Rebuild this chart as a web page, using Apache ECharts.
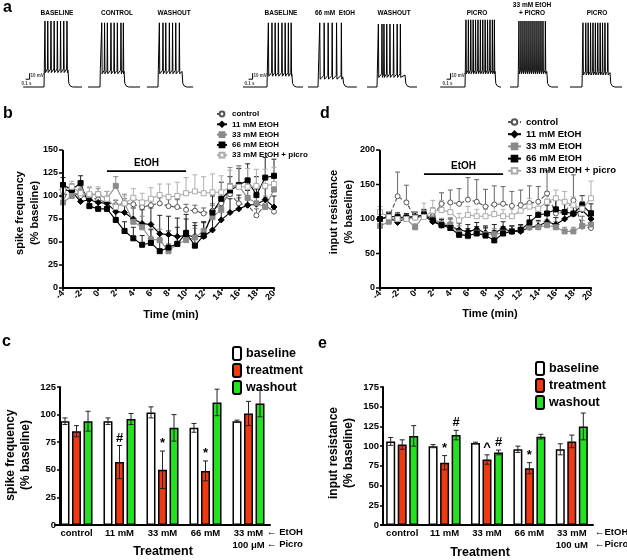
<!DOCTYPE html>
<html><head><meta charset="utf-8">
<script src="https://cdn.jsdelivr.net/npm/echarts@6/dist/echarts.min.js"></script>
<style>html,body{margin:0;padding:0;background:#fff}#c{width:627px;height:560px}</style>
</head><body><div id="c"></div>
<script>
// ================= DATA =================
// Panel a: voltage traces (times in s relative to current-step onset, voltages in mV)
const traceLabels = ['BASELINE','CONTROL','WASHOUT','BASELINE','66 mM  EtOH','WASHOUT','PICRO','33 mM EtOH\n+ PICRO','PICRO'];
const traceStart = [-0.52,-0.30,-0.28,-0.60,-0.25,-0.25,-0.62,-0.20,-0.30];
const traceEnd   = [0.95,1.00,0.88,0.90,0.97,1.00,0.90,1.00,1.00];
const traceOff   = [0.60,0.60,0.60,0.62,0.62,0.70,0.75,0.72,0.70];
const tracePlateau = [-42,-44,-44,-48,-53,-50,-44,-44,-46];
const tracePeak  = [40,37,37,37,37,35,42,40,37];
const traceRest  = -70;
const traceSpikes = [
  [0.02,0.09,0.17,0.25,0.33,0.41,0.49,0.57],
  [0.04,0.11,0.18,0.27,0.35,0.43,0.52,0.58],
  [0.03,0.12,0.19,0.28,0.36,0.44,0.53],
  [0.03,0.12,0.20,0.28,0.37,0.45,0.53,0.60],
  [0.04,0.15,0.25,0.35,0.46,0.58],
  [0.03,0.12,0.17,0.24,0.32,0.41,0.50,0.58],
  [0.02,0.08,0.14,0.20,0.26,0.32,0.38,0.44,0.50,0.56,0.62,0.68,0.73],
  [0.02,0.07,0.12,0.17,0.22,0.27,0.32,0.37,0.42,0.47,0.52,0.57,0.62,0.68],
  [0.02,0.09,0.15,0.21,0.27,0.33,0.39,0.45,0.51,0.57,0.64]
];
const scaleBarTime = 0.1;   // s
const scaleBarVolt = 10;    // mV
const scaleBarTexts = ['10 mV','0.1 s'];

// Panels b & d: time courses
const timeMin = [-4,-3,-2,-1,0,1,2,3,4,5,6,7,8,9,10,11,12,13,14,15,16,17,18,19,20];
const etohPeriod = [0.8, 10.3];
const seriesNames = ['control','11 mM EtOH','33 mM EtOH','66 mM EtOH','33 mM EtOH + picro'];

const bControl    = [100,104,100,99,96,93,90,92,91,88,90,92,89,88,85,84,81,84,92,102,92,90,79,90,83];
const bControlErr = [5,4,5,4,5,5,5,5,6,6,6,6,7,8,6,6,6,6,6,7,6,6,7,8,6];
const b11    = [107,105,94,96,93,92,83,82,75,70,69,59,58,56,57,56,56,63,74,82,86,90,91,96,88];
const b11Err = [6,6,8,5,6,6,8,10,12,15,18,20,20,20,18,15,15,14,15,15,15,16,12,12,12];
const b33    = [93,100,105,101,102,97,111,92,72,66,53,52,40,48,52,55,62,77,85,111,111,98,92,88,107];
const b33Err = [10,8,6,8,6,8,10,10,15,12,10,12,8,8,8,10,10,15,18,20,22,14,15,12,12];
const b66    = [112,107,114,89,86,86,74,62,54,47,49,40,44,48,60,46,57,82,97,106,112,117,101,120,122];
const b66Err = [8,6,8,6,6,8,8,10,12,10,15,18,18,18,20,22,15,18,18,15,18,18,20,22,18];
const bPicro    = [106,110,103,102,102,97,88,92,98,93,97,101,99,100,103,105,103,104,104,110,110,110,111,111,113];
const bPicroErr = [6,6,6,8,8,8,8,8,10,10,12,12,14,15,17,18,18,20,18,18,22,20,18,18,18];

const dControl    = [100,102,133,124,102,104,104,122,124,122,128,125,118,121,122,119,120,123,125,137,108,110,127,89,87];
const dControlErr = [10,8,35,25,8,8,12,16,18,22,32,32,25,27,25,21,22,25,22,33,20,18,37,15,15];
const d11    = [100,103,95,102,104,105,96,91,90,84,82,85,80,80,86,82,82,88,90,96,92,100,107,113,100];
const d11Err = [8,6,6,5,6,6,8,8,10,10,10,10,10,12,10,8,8,8,8,10,10,10,12,12,12];
const d33    = [90,96,101,100,88,105,101,93,92,80,75,80,78,78,80,82,84,88,88,91,88,82,82,90,92];
const d33Err = [8,6,6,6,5,8,8,8,10,10,8,8,8,8,8,8,8,8,8,8,8,6,6,8,8];
const d66    = [100,104,103,102,103,106,98,91,87,77,76,79,76,69,79,82,84,95,106,108,114,110,108,120,108];
const d66Err = [8,6,6,6,6,8,8,8,8,8,10,10,12,14,10,8,8,10,10,12,14,14,12,14,14];
const dPicro    = [110,103,100,100,102,103,112,113,110,98,106,104,104,107,104,104,112,118,115,125,130,125,120,115,130];
const dPicroErr = [8,8,6,6,8,20,15,14,12,10,12,10,10,12,10,10,12,12,10,15,12,15,12,18,25];

// Panels c & e: bar summaries
const barNames = ['baseline','treatment','washout'];
const cCats = ['control','11 mM','33 mM','66 mM','33 mM\n100 μM'];
const cBaseline = [94,94,102,88,94],   cBaselineErr = [3,3,5,4,1];
const cTreatment = [85,57,50,49,101],  cTreatmentErr = [5,15,17,9,11];
const cWashout = [94,96,88,111,110],   cWashoutErr = [9,5,12,12,12];
const cTreatSig = ['','#','*','*',''], cWashSig = ['','','','',''];

const eCats = ['control','11 mM','33 mM','66 mM','33 mM\n100 uM'];
const eBaseline = [106,100,104,96,96], eBaselineErr = [5,2,1,4,7];
const eTreatment = [102,79,83,72,106], eTreatmentErr = [6,9,6,7,8];
const eWashout = [113,114,92,112,125], eWashoutErr = [13,6,3,3,17];
const eTreatSig = ['','*','^','*',''], eWashSig = ['','#','#','',''];

// ================= BUILD =================
const FONT = 'Liberation Sans';
const chart = echarts.init(document.getElementById('c'), null, {renderer:'canvas', width:627, height:560});
const grids=[], xAxes=[], yAxes=[], series=[], graphics=[];

function tracePoints(i){
  const pl=tracePlateau[i], pk=tracePeak[i], off=traceOff[i];
  const pts=[[traceStart[i],traceRest],[0,traceRest],[0.008,pl+3]];
  traceSpikes[i].forEach(t=>{ pts.push([t-0.004,pl+2],[t+0.004,pk],[t+0.014,pl-4]); });
  pts.push([off,pl],[off+0.02,traceRest+6],[off+0.06,traceRest+1.5],[off+0.12,traceRest],[traceEnd[i],traceRest]);
  return pts;
}
const traceOnPx = [44,100,158,267,318,377,465,518,582];
const traceLabelPx = [57,117,174,281,335,394,477,532,597];
traceOnPx.forEach((on,i)=>{
  grids.push({left:on-28, top:15, width:68, height:78, outerBoundsMode:'none'});
  xAxes.push({type:'value', gridIndex:i, min:-0.7, max:1.0, show:false, axisLine:{show:false, onZero:false}});
  yAxes.push({type:'value', gridIndex:i, min:-80, max:50, show:false, axisLine:{show:false, onZero:false}});
  series.push({type:'line', xAxisIndex:i, yAxisIndex:i, data:tracePoints(i), symbol:'none',
    lineStyle:{color:'#000', width:1}, silent:true, clip:false});
  const multi = traceLabels[i].indexOf('\n')>=0;
  graphics.push({type:'text', x:traceLabelPx[i], y:multi?1:9, style:{text:traceLabels[i], font:'bold 6.5px '+FONT, fill:'#000', textAlign:'center', textVerticalAlign:'top', lineHeight:8}});
});
// scale bars in the first trace of each group
[0,3,6].forEach(i=>{
  const x0=-0.46, v0=-57;
  series.push({type:'line', xAxisIndex:i, yAxisIndex:i, symbol:'none', silent:true, clip:false,
    lineStyle:{color:'#000', width:1},
    data:[[x0,v0],[x0+scaleBarTime,v0],[x0+scaleBarTime,v0+scaleBarVolt]]});
  series.push({type:'scatter', xAxisIndex:i, yAxisIndex:i, symbolSize:0, silent:true, clip:false,
    data:[{value:[x0+scaleBarTime,v0+6], label:{formatter:scaleBarTexts[0], position:'right', distance:1}},
          {value:[x0+0.02,v0-1], label:{formatter:scaleBarTexts[1], position:'bottom', distance:1}}],
    label:{show:true, fontSize:4.5, fontWeight:'bold', color:'#000', fontFamily:FONT}});
});

// ---- time-course panels ----
const styles = [
  {symbol:'circle', size:5, fill:'#fff', border:'#555', line:'#555', type:'dashed', err:'#666'},
  {symbol:'diamond', size:6, fill:'#000', border:'#000', line:'#000', type:'solid', err:'#222'},
  {symbol:'rect', size:5, fill:'#8a8a8a', border:'#8a8a8a', line:'#8a8a8a', type:'solid', err:'#8a8a8a'},
  {symbol:'rect', size:5, fill:'#000', border:'#000', line:'#000', type:'solid', err:'#222'},
  {symbol:'rect', size:5, fill:'#fff', border:'#aaa', line:'#aaa', type:'solid', err:'#b0b0b0'}
];
function axisCommon(){
  return {axisLine:{show:true, onZero:false, lineStyle:{color:'#000', width:2}},
    axisTick:{show:true, inside:false, length:3, lineStyle:{color:'#000', width:1.5}},
    splitLine:{show:false}};
}
const timeIndex = (t)=> (t - timeMin[0])/(timeMin[1]-timeMin[0]);
function timePanel(gi, left, yMax, yInt, vals, errs, barVal){
  grids.push({left:left, top:150, width:211, height:138, outerBoundsMode:'none'});
  const ax = axisCommon();
  ax.axisTick.interval = 1; ax.axisTick.alignWithLabel = true;
  xAxes.push(Object.assign({type:'category', gridIndex:gi, data:timeMin.map(String), boundaryGap:false,
    axisLabel:{interval:1, rotate:45, fontSize:9, fontWeight:'bold', color:'#000', fontFamily:FONT, margin:4}}, ax));
  // value axis: labels only; its line and ticks are drawn by the custom series below at the left edge
  yAxes.push({type:'value', gridIndex:gi, min:0, max:yMax, interval:yInt, position:'left',
    axisLine:{show:false, onZero:false}, axisTick:{show:false}, splitLine:{show:false},
    axisLabel:{fontSize:9, fontWeight:'bold', color:'#000', fontFamily:FONT, margin:5}});
  series.push({type:'custom', xAxisIndex:gi, yAxisIndex:gi, z:6, silent:true, clip:false, encode:{x:0, y:[1,2]},
    data:[[0, 0, yMax, yInt]],
    renderItem:(p,api)=>{
      const lo=api.coord([0, api.value(1)]), hi=api.coord([0, api.value(2)]);
      const ch=[{type:'line', shape:{x1:lo[0],y1:lo[1]+1,x2:hi[0],y2:hi[1]}, style:{stroke:'#000', lineWidth:2}}];
      for (let v=api.value(1); v<=api.value(2)+1e-9; v+=api.value(3)) {
        const c=api.coord([0,v]);
        ch.push({type:'line', shape:{x1:c[0]-4,y1:c[1],x2:c[0],y2:c[1]}, style:{stroke:'#000', lineWidth:1.5}});
      }
      return {type:'group', children:ch};
    }});
  vals.forEach((v,k)=>{
    const s=styles[k];
    series.push({type:'custom', xAxisIndex:gi, yAxisIndex:gi, z:1, silent:true, encode:{x:0,y:1},
      data: timeMin.map((t,j)=>[j, v[j], errs[k][j]]),
      renderItem:(p,api)=>{
        const j=api.value(0), y=api.value(1), e=api.value(2);
        const a=api.coord([j,y]), b=api.coord([j,y+e]);
        return {type:'group', children:[
          {type:'line', shape:{x1:a[0],y1:a[1],x2:b[0],y2:b[1]}, style:{stroke:s.err, lineWidth:1}},
          {type:'line', shape:{x1:b[0]-2.5,y1:b[1],x2:b[0]+2.5,y2:b[1]}, style:{stroke:s.err, lineWidth:1}}]};
      }});
  });
  vals.forEach((v,k)=>{
    const s=styles[k];
    series.push({type:'line', name:seriesNames[k], xAxisIndex:gi, yAxisIndex:gi, z:3,
      data: v.slice(), symbol:s.symbol, symbolSize:s.size, showAllSymbol:true,
      itemStyle:{color:s.fill, borderColor:s.border, borderWidth:1},
      lineStyle:{color:s.line, width:1.1, type:s.type}});
  });
  // EtOH application bar
  series.push({type:'custom', xAxisIndex:gi, yAxisIndex:gi, z:4, silent:true, encode:{x:[0,1], y:2},
    data:[[timeIndex(etohPeriod[0]), timeIndex(etohPeriod[1]), barVal]],
    renderItem:(p,api)=>{
      const a=api.coord([api.value(0), api.value(2)]), b=api.coord([api.value(1), api.value(2)]);
      return {type:'group', children:[
        {type:'line', shape:{x1:a[0],y1:a[1],x2:b[0],y2:b[1]}, style:{stroke:'#000', lineWidth:1.6}},
        {type:'text', x:(a[0]+b[0])/2, y:a[1]-3, style:{text:'EtOH', font:'bold 10px '+FONT, fill:'#000', textAlign:'center', textVerticalAlign:'bottom'}}]};
    }});
}
timePanel(9, 63, 150, 25, [bControl,b11,b33,b66,bPicro], [bControlErr,b11Err,b33Err,b66Err,bPicroErr], 127);
timePanel(10, 380, 200, 50, [dControl,d11,d33,d66,dPicro], [dControlErr,d11Err,d33Err,d66Err,dPicroErr], 165);

// ---- bar panels ----
const barColors = ['#ffffff','#ee3a12','#22e222'];
const BAR_W = 9, BAR_GAP = 0.28, BAR_STEP = BAR_W*(1+BAR_GAP);
function barPanel(gi, left, width, yMax, cats, vals, errs, sigs){
  grids.push({left:left, top:387, width:width, height:138, outerBoundsMode:'none'});
  xAxes.push({type:'category', gridIndex:gi, data:cats,
    axisLine:{show:true, onZero:false, lineStyle:{color:'#000', width:2}}, axisTick:{show:false},
    axisLabel:{fontSize:9.5, fontWeight:'bold', color:'#000', fontFamily:FONT, margin:2, lineHeight:12, interval:0}});
  yAxes.push(Object.assign({type:'value', gridIndex:gi, min:0, max:yMax, interval:25, offset:gi===11?-5:-2,
    axisLabel:{fontSize:9.5, fontWeight:'bold', color:'#000', fontFamily:FONT, margin:4}}, axisCommon()));
  vals.forEach((v,k)=>{
    series.push({type:'bar', name:barNames[k], xAxisIndex:gi, yAxisIndex:gi, data:v, barWidth:BAR_W,
      barGap:(BAR_GAP*100)+'%', itemStyle:{color:barColors[k], borderColor:'#000', borderWidth:1.5}, z:2});
  });
  vals.forEach((v,k)=>{
    const sg = sigs[k];
    series.push({type:'custom', xAxisIndex:gi, yAxisIndex:gi, z:5, silent:true, encode:{x:0,y:1},
      data: v.map((val,i)=>[i, val, errs[k][i]]),
      renderItem:(p,api)=>{
        const i=api.value(0), y=api.value(1), e=api.value(2);
        const x=api.coord([i,y])[0]+(k-1)*BAR_STEP;
        const top=api.coord([i,y+e])[1], bot=api.coord([i,y-e])[1];
        const ch=[
          {type:'line', shape:{x1:x,y1:top,x2:x,y2:bot}, style:{stroke:'#222', lineWidth:1}},
          {type:'line', shape:{x1:x-2.5,y1:top,x2:x+2.5,y2:top}, style:{stroke:'#222', lineWidth:1}},
          {type:'line', shape:{x1:x-2.5,y1:bot,x2:x+2.5,y2:bot}, style:{stroke:'#222', lineWidth:1}}];
        if (sg && sg[i]) ch.push({type:'text', x:x, y:top-1, style:{text:sg[i], font:'bold 13px '+FONT, fill:'#000', textAlign:'center', textVerticalAlign:'bottom'}});
        return {type:'group', children:ch};
      }});
  });
}
barPanel(11, 55, 215, 125, cCats, [cBaseline,cTreatment,cWashout], [cBaselineErr,cTreatmentErr,cWashoutErr], [null,cTreatSig,cWashSig]);
barPanel(12, 381, 212, 175, eCats, [eBaseline,eTreatment,eWashout], [eBaselineErr,eTreatmentErr,eWashoutErr], [null,eTreatSig,eWashSig]);

// ---- texts ----
function txt(x,y,t,size,opts){
  graphics.push(Object.assign({type:'text', x:x, y:y, style:Object.assign({text:t, font:'bold '+size+'px '+FONT, fill:'#000', textAlign:'center', textVerticalAlign:'middle'}, (opts&&opts.style)||{})}, (opts&&opts.el)||{}));
}
txt(3,0,'a',16,{style:{textAlign:'left', textVerticalAlign:'top'}});
txt(3,106,'b',16,{style:{textAlign:'left', textVerticalAlign:'top'}});
txt(320,106,'d',16,{style:{textAlign:'left', textVerticalAlign:'top'}});
txt(2,334,'c',16,{style:{textAlign:'left', textVerticalAlign:'top'}});
txt(318,336,'e',16,{style:{textAlign:'left', textVerticalAlign:'top'}});
const rot={el:{rotation:Math.PI/2}};
txt(20,213,'spike frequency',11,rot); txt(35,213,'(% baseline)',11,rot);
txt(334,212,'input resistance',11,rot); txt(349,212,'(% baseline)',11,rot);
txt(11,455,'spike frequency',12,rot); txt(26,455,'(% baseline)',12,rot);
txt(334,453,'input resistance',12,rot); txt(349,453,'(% baseline)',12,rot);
txt(171,315,'Time (min)',11); txt(490,314,'Time (min)',11);
txt(163,552,'Treatment',12.5); txt(480,553,'Treatment',12.5);
txt(267,532,'← EtOH',9.5,{style:{textAlign:'left'}}); txt(267,544,'← Picro',9.5,{style:{textAlign:'left'}});
txt(595,532,'←EtOH',9.5,{style:{textAlign:'left'}}); txt(595,544,'←Picro',9.5,{style:{textAlign:'left'}});

const legendText = (s)=>({fontSize:s, fontWeight:'bold', color:'#000', fontFamily:FONT});
const option = {
  animation:false,
  grid:grids, xAxis:xAxes, yAxis:yAxes, series:series, graphic:graphics,
  legend:[
    {data:seriesNames, orient:'vertical', left:216, top:110, itemWidth:10, itemHeight:6, itemGap:2.3, padding:0, selectedMode:false, textStyle:legendText(8)},
    {data:seriesNames, orient:'vertical', left:507, top:117, itemWidth:13, itemHeight:7, itemGap:2.2, padding:0, selectedMode:false, textStyle:legendText(9.5)},
    {data:barNames, orient:'vertical', left:232, top:346, itemWidth:8, itemHeight:13, itemGap:2, padding:0, selectedMode:false, textStyle:legendText(12.5)},
    {data:barNames, orient:'vertical', left:535, top:361, itemWidth:8, itemHeight:13, itemGap:2, padding:0, selectedMode:false, textStyle:legendText(12.5)}
  ]
};
chart.setOption(option);
</script></body></html>
